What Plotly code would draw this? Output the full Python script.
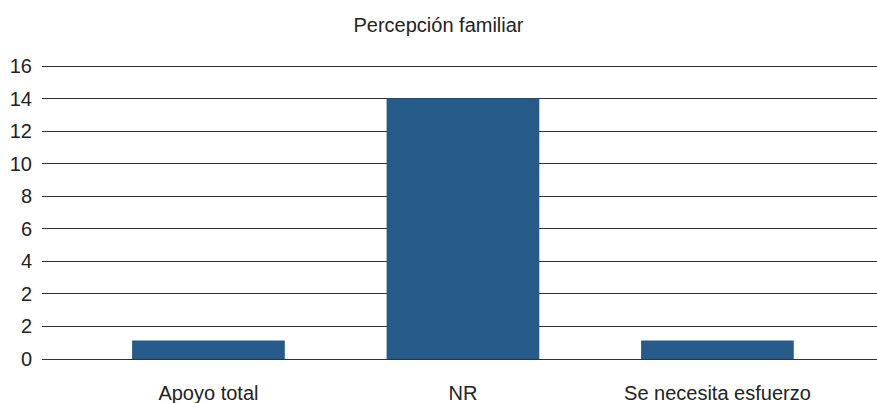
import plotly.graph_objects as go

categories = ["Apoyo total", "NR", "Se necesita esfuerzo"]
values = [1, 14, 1]
tick_vals = [0, 1.75, 3.5, 5.25, 7, 8.75, 10.5, 12.25, 14, 15.75]
tick_text = ["0", "2", "2", "4", "6", "8", "10", "12", "14", "16"]

fig = go.Figure(go.Bar(
    x=[0, 1, 2], y=values, marker=dict(color="#265a88", line=dict(width=0)),
    width=0.6, hoverinfo="skip"))

font = "Liberation Sans, Arial, sans-serif"
fig.update_layout(
    width=877, height=403,
    margin=dict(l=42, r=0, t=64, b=44),
    plot_bgcolor="white", paper_bgcolor="white",
    font=dict(family=font, color="#222222", size=20),
    title=dict(text="Percepción familiar", x=0.5, xanchor="center", y=0.937, yanchor="middle",
               font=dict(size=20, color="#222222")),
    showlegend=False,
)
fig.update_xaxes(range=[-0.654, 2.627], tickvals=[0, 1, 2], ticktext=categories,
                 showgrid=False, zeroline=False, showline=False, ticks="",
                 ticklabelstandoff=20, tickfont=dict(size=20))
fig.update_yaxes(range=[0, 15.86], tickvals=tick_vals, ticktext=tick_text,
                 showgrid=True, gridcolor="#333333", gridwidth=1,
                 zeroline=True, zerolinecolor="#333333", zerolinewidth=1,
                 showline=False, ticks="", ticklabelstandoff=9, tickfont=dict(size=20))
fig.write_html("out.html", config={"displayModeBar": False},
               post_script="document.body.style.margin='0';document.body.style.padding='0';")
